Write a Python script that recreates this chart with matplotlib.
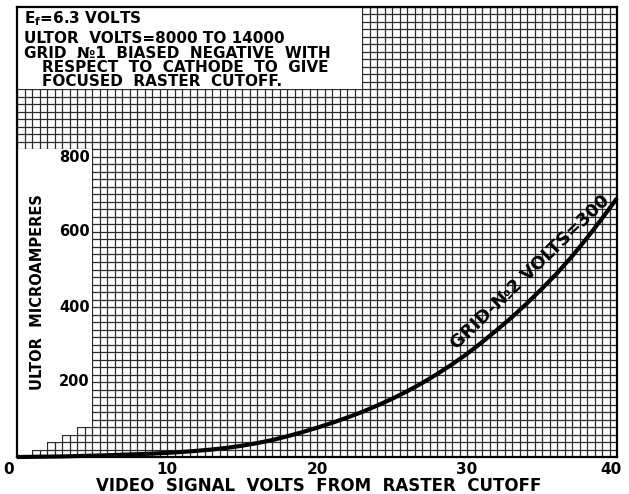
import matplotlib
matplotlib.use("Agg")
import matplotlib.pyplot as plt
from matplotlib.patches import Polygon, Rectangle
import numpy as np

# curve, one point per volt
signal_volts = list(range(0, 41))
ultor_ua = [0, 0.5, 1, 1.5, 2.5, 3.5, 4.5, 6, 7.5, 9,
            11, 13.5, 16.5, 20, 24.5, 30, 37, 45, 55, 66,
            78, 91, 105, 120, 137, 155, 175, 197, 221, 247,
            275, 306, 339, 373, 410, 449, 490, 535, 584, 636, 690]

x_ticks = [0, 10, 20, 30, 40]
y_ticks = [200, 400, 600, 800]
notes = [
    ("E$_f$=6.3 VOLTS", 0.5, 1156),
    ("ULTOR  VOLTS=8000 TO 14000", 0.5, 1104),
    ("GRID  №1  BIASED  NEGATIVE  WITH", 0.5, 1063),
    ("RESPECT  TO  CATHODE  TO  GIVE", 1.7, 1026),
    ("FOCUSED  RASTER  CUTOFF.", 1.7, 990),
]
curve_label = "GRID-№2 VOLTS=300"

plt.rcParams['font.family'] = ['DejaVu Sans']
plt.rcParams['mathtext.default'] = 'regular'

fig = plt.figure(figsize=(6.29, 4.94), dpi=100)
ax = fig.add_axes([17 / 629, 37 / 494, 600 / 629, 450 / 494])
ax.set_xlim(0, 40)
ax.set_ylim(0, 1200)

# graph paper
ax.set_xticks(np.arange(0, 40.01, 0.5))
ax.set_yticks(np.arange(0, 1200.1, 20))
ax.tick_params(length=0, labelbottom=False, labelleft=False)
ax.grid(True, color='#2a2a2a', linewidth=0.9)
ax.set_axisbelow(True)
for s in ax.spines.values():
    s.set_linewidth(1.6)

# blank areas on the paper
ax.add_patch(Rectangle((0, 980), 23, 220, facecolor='white', edgecolor='none', zorder=1))
left_blank = [(0, 0), (1, 0), (1, 20), (2, 20), (2, 40), (3, 40), (3, 60),
              (4, 60), (4, 80), (5, 80), (5, 820), (0, 820)]
ax.add_patch(Polygon(left_blank, closed=True, facecolor='white', edgecolor='none', zorder=1))

ax.plot(signal_volts, ultor_ua, color='black', linewidth=3, zorder=3, clip_on=False,
        solid_capstyle='butt', solid_joinstyle='round')

font = dict(fontweight='bold', color='black')
for line, indent, yb in notes:
    ax.text(indent, yb, line, fontsize=11, va='baseline', ha='left', zorder=4, **font)

for v in y_ticks:
    ax.text(4.85, v, str(v), fontsize=10.5, ha='right', va='center', zorder=4, **font)

for v in x_ticks:
    xv = v
    if v == 0:
        xv = -0.55
    elif v == 40:
        xv = 39.6
    ax.text(xv, -32, str(v), fontsize=11, ha='center', va='center',
            clip_on=False, **font)

ax.text(20.1, -76, "VIDEO  SIGNAL  VOLTS  FROM  RASTER  CUTOFF", fontsize=12,
        ha='center', va='center', clip_on=False, **font)
ax.text(1.35, 440, "ULTOR  MICROAMPERES", fontsize=10.5, rotation=90,
        ha='center', va='center', zorder=4, **font)

ax.text(34.2, 492, curve_label, fontsize=13, rotation=44, rotation_mode='anchor',
        ha='center', va='center', zorder=4, **font)

fig.savefig("out.png", dpi=100)
